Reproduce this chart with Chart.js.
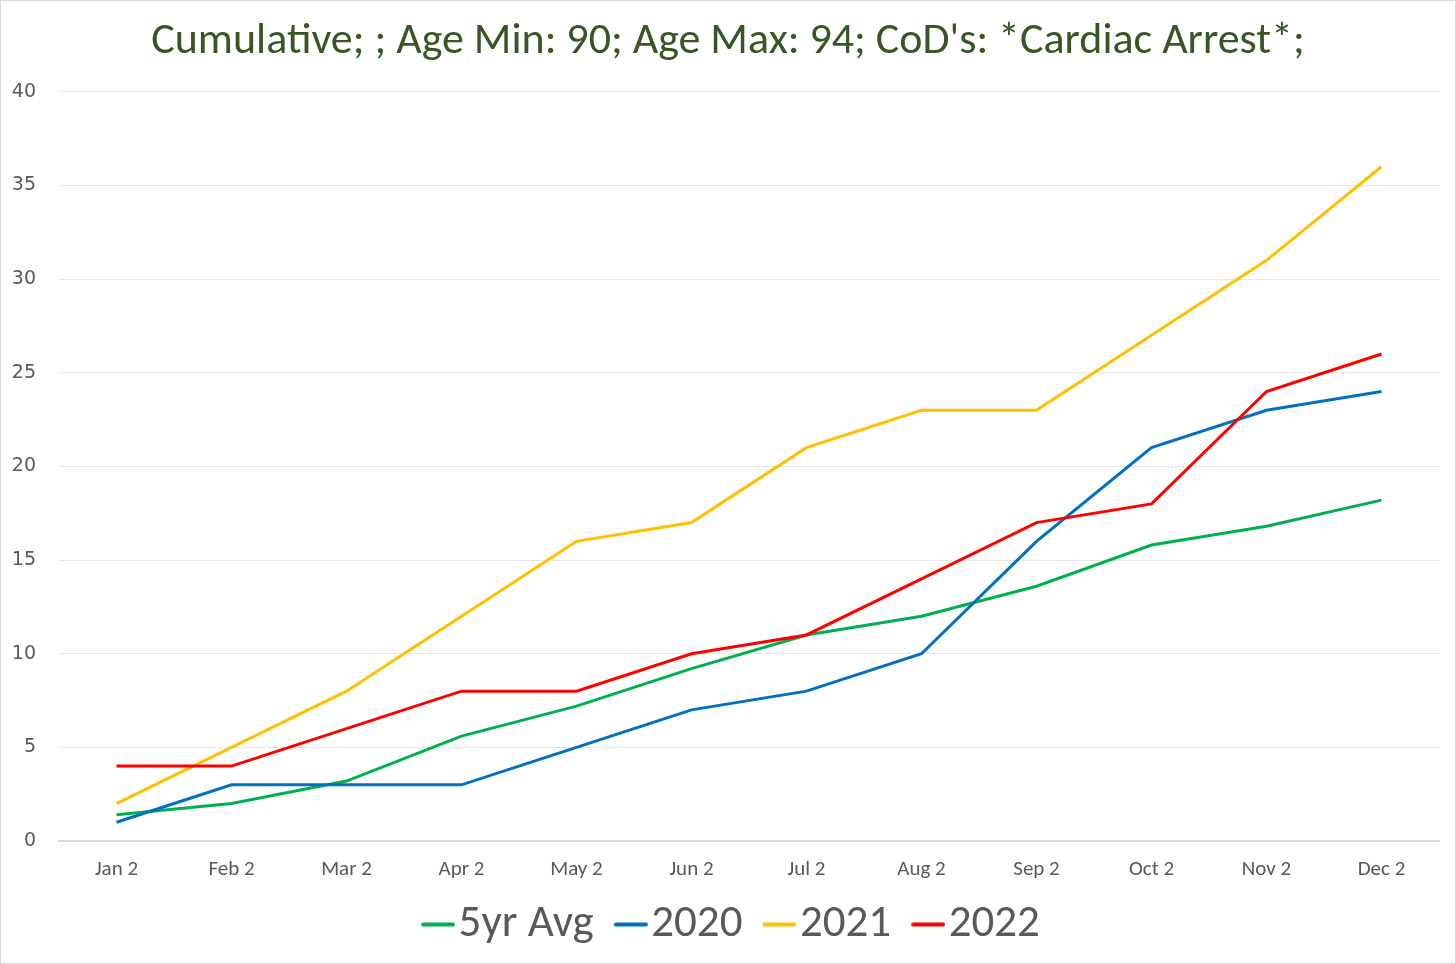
<!DOCTYPE html>
<html>
<head>
<meta charset="utf-8">
<script src="https://cdn.jsdelivr.net/npm/chart.js@4/dist/chart.umd.min.js"></script>
<style>
  html, body { margin: 0; padding: 0; background: #fff; }
  #wrap { position: absolute; left: 0; top: 0; width: 1454px; height: 962px; border: 1px solid #d9d9d9; background: #fff; }
  canvas { display: block; }
</style>
</head>
<body>
<div id="wrap"><canvas id="c" width="1454" height="962"></canvas></div>
<script>
const categories = ["Jan 2","Feb 2","Mar 2","Apr 2","May 2","Jun 2","Jul 2","Aug 2","Sep 2","Oct 2","Nov 2","Dec 2"];
const avg5yr = [1.4, 2.0, 3.2, 5.6, 7.2, 9.2, 11.0, 12.0, 13.6, 15.8, 16.8, 18.2];
const y2020 = [1, 3, 3, 3, 5, 7, 8, 10, 16, 21, 23, 24];
const y2021 = [2, 5, 8, 12, 16, 17, 21, 23, 23, 27, 31, 36];
const y2022 = [4, 4, 6, 8, 8, 10, 11, 14, 17, 18, 24, 26];
const yTicks = [0, 5, 10, 15, 20, 25, 30, 35, 40];
const titleText = "Cumulative; ; Age Min: 90; Age Max: 94; CoD's: *Cardiac Arrest*;";

const calibri = 'Carlito, "Open Sans", "Noto Sans", sans-serif';
const LEG_FONT = 45;

// legend swatch: a short line that sits right next to the label text
function swatch(color) {
  const c = document.createElement('canvas');
  c.width = 58; c.height = 8;
  const g = c.getContext('2d');
  g.strokeStyle = color; g.lineWidth = 4; g.lineCap = 'round';
  g.beginPath(); g.moveTo(26, 4); g.lineTo(56, 4); g.stroke();
  return c;
}

function ds(label, data, color, order) {
  return { label, data, borderColor: color, backgroundColor: color, borderWidth: 3,
    pointRadius: 0, pointHoverRadius: 0, tension: 0, fill: false, order,
    pointStyle: swatch(color) };
}

// center title and legend on the whole canvas rather than the padded box
const centerBlocks = {
  id: 'centerBlocks',
  afterLayout(chart) {
    if (chart.titleBlock) chart.titleBlock.left = 16;
    if (chart.legend) chart.legend.left = 16;
  }
};

new Chart(document.getElementById('c'), {
  type: 'line',
  data: {
    labels: categories,
    datasets: [
      ds('5yr Avg', avg5yr, '#00B050', 4),
      ds('2020', y2020, '#0070C0', 3),
      ds('2021', y2021, '#FFC000', 2),
      ds('2022', y2022, '#FF0000', 1)
    ]
  },
  plugins: [centerBlocks],
  options: {
    responsive: false,
    animation: false,
    devicePixelRatio: 1,
    layout: { padding: { left: 0, right: 16, top: 15, bottom: 6 } },
    plugins: {
      title: {
        display: true, text: titleText, color: '#375623',
        font: { family: calibri, size: 44, weight: 'normal' },
        padding: { top: 0, bottom: 23 }
      },
      legend: {
        position: 'bottom',
        labels: {
          color: '#595959',
          font: { family: calibri, size: LEG_FONT },
          usePointStyle: true, pointStyleWidth: 20,
          boxHeight: 10, padding: 15,
          sort: (a, b) => a.datasetIndex - b.datasetIndex
        }
      },
      tooltip: { enabled: false }
    },
    scales: {
      x: {
        offset: true,
        grid: { display: false },
        border: { display: true, color: '#d9d9d9', width: 2 },
        ticks: { color: '#595959', font: { family: calibri, size: 21 }, padding: 8, maxRotation: 0 },
        afterFit: (s) => { s.height = 46; }
      },
      y: {
        min: 0, max: 40,
        afterBuildTicks: (s) => { s.ticks = yTicks.map(v => ({ value: v })); },
        grid: { color: '#e6e6e6', lineWidth: 1, drawTicks: false },
        border: { display: false },
        ticks: { color: '#595959', font: { family: '"DejaVu Sans", Verdana, sans-serif', size: 19 }, padding: 23 },
        afterFit: (s) => { s.width = 58; }
      }
    }
  }
});
</script>
</body>
</html>
